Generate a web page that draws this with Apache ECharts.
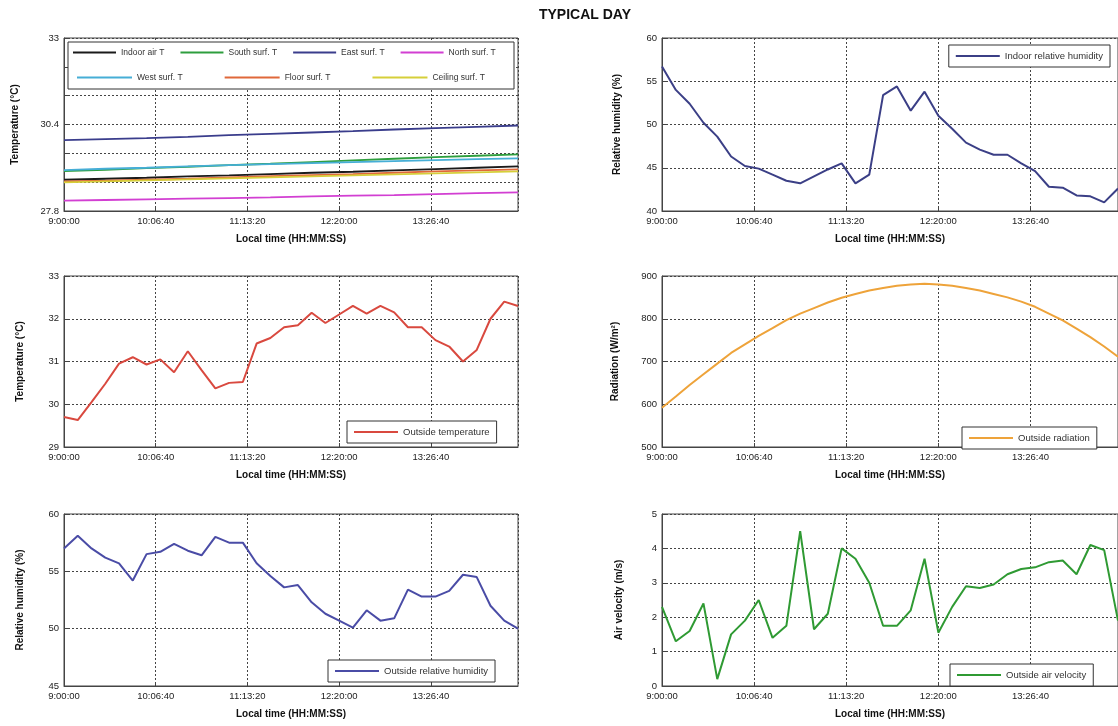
<!DOCTYPE html>
<html><head><meta charset="utf-8">
<script src="https://cdn.jsdelivr.net/npm/echarts@6/dist/echarts.min.js"></script>
<style>html,body{margin:0;padding:0;background:#fff}#c{width:1118px;height:726px}</style>
</head><body><div id="c"></div>
<script>
// ---------- DATA ----------
const timeMin = [0,10,20,30,40,50,60,70,80,90,100,110,120,130,140,150,160,170,180,190,200,210,220,230,240,250,260,270,280,290,300,310,320,330];
const timeMin30 = [0,30,60,90,120,150,180,210,240,270,300,330];
const xTickLabels = ['9:00:00','10:06:40','11:13:20','12:20:00','13:26:40'];

// Indoor temperatures (every 30 min)
const indoorAirT  = [28.74,28.77,28.80,28.84,28.87,28.91,28.95,28.98,29.02,29.06,29.10,29.14];
const southSurfT  = [29.00,29.04,29.09,29.13,29.18,29.22,29.27,29.32,29.37,29.42,29.46,29.50];
const eastSurfT   = [29.93,29.96,29.99,30.03,30.08,30.12,30.16,30.20,30.25,30.29,30.33,30.37];
const northSurfT  = [28.11,28.13,28.15,28.17,28.19,28.21,28.24,28.26,28.28,28.31,28.34,28.36];
const westSurfT   = [29.03,29.07,29.10,29.14,29.18,29.21,29.24,29.27,29.30,29.33,29.36,29.38];
const floorSurfT  = [28.69,28.71,28.74,28.77,28.81,28.85,28.88,28.91,28.95,28.99,29.02,29.05];
const ceilSurfT   = [28.66,28.69,28.72,28.75,28.78,28.81,28.84,28.87,28.90,28.93,28.96,28.99];
const tempTicks1  = [27.8,28.667,29.533,30.4,31.267,32.133,33];
const tempLabels1 = [27.8,30.4,33];

// Indoor relative humidity (%)
const indoorRH = [56.7,54.0,52.4,50.2,48.6,46.3,45.2,44.9,44.2,43.5,43.2,44.0,44.8,45.5,43.2,44.2,53.4,54.4,51.6,53.8,51.0,49.5,47.9,47.1,46.5,46.5,45.5,44.6,42.8,42.7,41.8,41.7,41.0,42.6];

// Outside temperature (°C)
const outsideT = [29.70,29.63,30.05,30.48,30.95,31.10,30.93,31.05,30.75,31.24,30.80,30.37,30.50,30.52,31.42,31.55,31.80,31.85,32.14,31.90,32.10,32.30,32.12,32.30,32.15,31.80,31.80,31.50,31.35,31.00,31.27,32.00,32.40,32.30];

// Outside radiation (W/m2)
const radiation = [592,618,645,670,695,720,740,760,778,797,812,825,838,849,858,866,872,877,880,882,880,877,872,866,858,850,840,828,812,796,777,757,735,711];

// Outside relative humidity (%)
const outsideRH = [57.0,58.1,57.0,56.2,55.7,54.2,56.5,56.7,57.4,56.8,56.4,58.0,57.5,57.5,55.7,54.6,53.6,53.8,52.3,51.3,50.7,50.1,51.6,50.7,50.9,53.4,52.8,52.8,53.3,54.7,54.5,52.0,50.7,50.0];

// Outside air velocity (m/s)
const airVel = [2.3,1.3,1.6,2.4,0.2,1.5,1.9,2.5,1.4,1.75,4.5,1.65,2.1,4.0,3.7,3.0,1.75,1.75,2.2,3.7,1.55,2.3,2.9,2.85,2.95,3.25,3.4,3.45,3.6,3.65,3.25,4.1,3.95,1.9];

// ---------- CHART ----------
const FONT = 'Liberation Sans, Arial, sans-serif';
const pairs = (t, v) => t.map((m, i) => [m * 60, v[i]]);

const grids = [
  {left: 64,  top: 38,  width: 454, height: 173},
  {left: 662, top: 38,  width: 456, height: 173},
  {left: 64,  top: 276, width: 454, height: 171},
  {left: 662, top: 276, width: 456, height: 171},
  {left: 64,  top: 514, width: 454, height: 172},
  {left: 662, top: 514, width: 456, height: 172}
];

const gridLine = {show: true, lineStyle: {color: '#444', type: [2, 2], width: 1}};

function xAxisFor(i) {
  return {
    type: 'value', gridIndex: i, min: 0, max: 19800, interval: 4000,
    axisLine: {show: true, lineStyle: {color: '#444'}},
    axisTick: {show: true, inside: true, length: 4, lineStyle: {color: '#444'}},
    axisLabel: {color: '#222', fontSize: 9.5, fontFamily: FONT, margin: 5, showMaxLabel: false,
      formatter: v => xTickLabels[Math.round(v / 4000)] || ''},
    splitLine: gridLine,
    name: 'Local time (HH:MM:SS)', nameLocation: 'middle', nameGap: 23,
    nameTextStyle: {color: '#111', fontSize: 10, fontWeight: 'bold', fontFamily: FONT}
  };
}
function yAxisFor(i, name, min, max, interval, gap) {
  return {
    type: 'value', gridIndex: i, min: min, max: max, interval: interval,
    axisLine: {show: true, lineStyle: {color: '#444'}},
    axisTick: {show: true, inside: true, length: 4, lineStyle: {color: '#444'}},
    axisLabel: {color: '#222', fontSize: 9.5, fontFamily: FONT, margin: 5},
    splitLine: gridLine,
    name: name, nameLocation: 'middle', nameGap: gap, nameRotate: 90,
    nameTextStyle: {color: '#111', fontSize: 10, fontWeight: 'bold', fontFamily: FONT}
  };
}

const y0 = yAxisFor(0, 'Temperature (°C)', 27.8, 33, null, 44);
delete y0.interval;
y0.axisTick.customValues = tempTicks1;
y0.axisLabel.customValues = tempLabels1;
y0.axisLabel.formatter = v => String(+(+v).toFixed(1));

const yAxes = [
  y0,
  yAxisFor(1, 'Relative humidity (%)', 40, 60, 5, 40),
  yAxisFor(2, 'Temperature (°C)', 29, 33, 1, 39),
  yAxisFor(3, 'Radiation (W/m²)', 500, 900, 100, 42),
  yAxisFor(4, 'Relative humidity (%)', 45, 60, 5, 39),
  yAxisFor(5, 'Air velocity (m/s)', 0, 5, 1, 38)
];

function line(name, i, t, v, color, w) {
  return {
    name: name, type: 'line', xAxisIndex: i, yAxisIndex: i, data: pairs(t, v),
    symbol: 'none', showSymbol: false, animation: false,
    lineStyle: {color: color, width: w || 2}, itemStyle: {color: color}
  };
}

const series = [
  line('Indoor air T', 0, timeMin30, indoorAirT, '#1a1a1a', 1.8),
  line('South surf. T', 0, timeMin30, southSurfT, '#2e9e3e', 1.8),
  line('East surf. T', 0, timeMin30, eastSurfT, '#3a3d8c', 1.8),
  line('North surf. T', 0, timeMin30, northSurfT, '#d23fd2', 1.8),
  line('West surf. T', 0, timeMin30, westSurfT, '#46aed6', 1.8),
  line('Floor surf. T', 0, timeMin30, floorSurfT, '#e0683a', 1.8),
  line('Ceiling surf. T', 0, timeMin30, ceilSurfT, '#d6cf3a', 1.8),
  line('Indoor relative humidity', 1, timeMin, indoorRH, '#3b3f86', 2),
  line('Outside temperature', 2, timeMin, outsideT, '#d9493f', 2),
  line('Outside radiation', 3, timeMin, radiation, '#eea33a', 2),
  line('Outside relative humidity', 4, timeMin, outsideRH, '#4a4ca6', 2),
  line('Outside air velocity', 5, timeMin, airVel, '#2f9a33', 2)
];

const legBase = {
  orient: 'horizontal', backgroundColor: '#fff', borderColor: '#333', borderWidth: 1,
  padding: [6, 7], icon: 'rect', itemWidth: 44, itemHeight: 2, itemGap: 10, borderRadius: 0,
  textStyle: {fontSize: 9.5, color: '#333', fontFamily: FONT}, selectedMode: false
};
const legends = [
  Object.assign({}, legBase, {data: ['Indoor air T','South surf. T','East surf. T','North surf. T'],
    left: 73, top: 48, backgroundColor: 'transparent', borderWidth: 0, padding: [0, 0], itemGap: 16, itemWidth: 43,
    textStyle: {fontSize: 8.5, color: '#333', fontFamily: FONT}}),
  Object.assign({}, legBase, {data: ['West surf. T','Floor surf. T','Ceiling surf. T'],
    left: 77, top: 73, backgroundColor: 'transparent', borderWidth: 0, padding: [0, 0], itemGap: 42, itemWidth: 55,
    textStyle: {fontSize: 8.5, color: '#333', fontFamily: FONT}}),
  Object.assign({}, legBase, {data: ['Indoor relative humidity'], right: 8, top: 45}),
  Object.assign({}, legBase, {data: ['Outside temperature'], left: 347, top: 421}),
  Object.assign({}, legBase, {data: ['Outside radiation'], left: 962, top: 427}),
  Object.assign({}, legBase, {data: ['Outside relative humidity'], left: 328, top: 660}),
  Object.assign({}, legBase, {data: ['Outside air velocity'], left: 950, top: 664})
];

const option = {
  animation: false,
  backgroundColor: '#fff',
  grid: grids.map(g => Object.assign({show: true, borderColor: '#444', borderWidth: 1, backgroundColor: '#fff', containLabel: false}, g)),
  xAxis: grids.map((g, i) => xAxisFor(i)),
  yAxis: yAxes,
  legend: legends,
  series: series,
  graphic: [
    {type: 'text', x: 585, y: 15, z: 10,
      style: {text: 'TYPICAL DAY', fill: '#111', font: 'bold 14px ' + FONT, textAlign: 'center', textVerticalAlign: 'middle'}},
    {type: 'rect', z: 3, shape: {x: 68, y: 42, width: 446, height: 47},
      style: {fill: '#fff', stroke: '#333', lineWidth: 1}}
  ]
};

const chart = echarts.init(document.getElementById('c'), null, {renderer: 'canvas'});
chart.setOption(option);
</script>
</body></html>
